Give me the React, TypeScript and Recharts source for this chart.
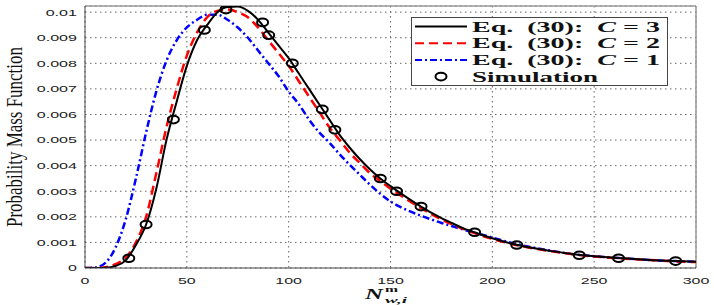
import React from 'react';
import { ComposedChart, Line, Scatter, XAxis, YAxis, CartesianGrid, ReferenceLine } from 'recharts';

const xs = [0, 5, 10, 15, 20, 25, 30, 35, 40, 45, 50, 55, 60, 65, 70, 75, 80, 85, 90, 95, 100, 105, 110, 115, 120, 125, 130, 135, 140, 145, 150, 155, 160, 165, 170, 175, 180, 185, 190, 195, 200, 210, 220, 230, 240, 250, 260, 270, 280, 290, 300];

// Eq. (30), C = 3
const c3 = [0, 0, 0.00001, 0.00008, 0.0003, 0.0009, 0.0017, 0.0031, 0.005, 0.0065, 0.0079, 0.0089, 0.0095, 0.01, 0.0102, 0.01022, 0.01005, 0.0097, 0.0092, 0.0087, 0.0082, 0.0076, 0.007, 0.0064, 0.0058, 0.0052, 0.0047, 0.00425, 0.00385, 0.0035, 0.0032, 0.00292, 0.00265, 0.0024, 0.00216, 0.00195, 0.00176, 0.00158, 0.00143, 0.00129, 0.00116, 0.00094, 0.00078, 0.00065, 0.00054, 0.00046, 0.0004, 0.00035, 0.0003, 0.00027, 0.00024];
// Eq. (30), C = 2
const c2 = [0, 0, 0.00003, 0.00015, 0.0004, 0.001, 0.002, 0.0037, 0.0055, 0.007, 0.0083, 0.0092, 0.0098, 0.01005, 0.0101, 0.01, 0.0098, 0.0094, 0.0089, 0.0084, 0.0079, 0.0073, 0.0067, 0.0061, 0.0055, 0.005, 0.0045, 0.0041, 0.0037, 0.0034, 0.0031, 0.00284, 0.00258, 0.00234, 0.00211, 0.0019, 0.00172, 0.00155, 0.0014, 0.00126, 0.00114, 0.00093, 0.00077, 0.00064, 0.00053, 0.00045, 0.00039, 0.00034, 0.0003, 0.00026, 0.00023];
// Eq. (30), C = 1
const c1 = [0, 0.00002, 0.0002, 0.0008, 0.0019, 0.0035, 0.0053, 0.0069, 0.0081, 0.0089, 0.0094, 0.0097, 0.0099, 0.0099, 0.0097, 0.0094, 0.009, 0.0085, 0.008, 0.0075, 0.0069, 0.0064, 0.0058, 0.0053, 0.0049, 0.00445, 0.00403, 0.00364, 0.00325, 0.0029, 0.0026, 0.00238, 0.0022, 0.00204, 0.0019, 0.00176, 0.00164, 0.00152, 0.00141, 0.0013, 0.00119, 0.00097, 0.0008, 0.00066, 0.00054, 0.00046, 0.0004, 0.00035, 0.0003, 0.00027, 0.00024];

const simX = [21.5, 30, 43.4, 58.6, 69.2, 87.2, 90.2, 101.8, 116.5, 122.7, 145, 153, 165, 191.3, 212, 242.7, 262, 290];
const simY = [0.00038, 0.0017, 0.0058, 0.0093, 0.0101, 0.0096, 0.0091, 0.008, 0.0062, 0.0054, 0.0035, 0.003, 0.0024, 0.0014, 0.0009, 0.0005, 0.00038, 0.00027];

const xTicks = [0, 50, 100, 150, 200, 250, 300];
const yTicks = [0, 0.001, 0.002, 0.003, 0.004, 0.005, 0.006, 0.007, 0.008, 0.009, 0.01];
const Y_MAX = 0.01024;

const curves = xs.map((x, i) => ({ x, c3: c3[i], c2: c2[i], c1: c1[i] }));
const sim = simX.map((x, i) => ({ x, y: simY[i] }));

const tickFont = 'Liberation Sans, Arial, sans-serif';
const serif = 'Liberation Serif, Times New Roman, serif';

const fmtY = (v: number) => (v === 0 ? '0' : String(parseFloat(v.toFixed(3))));
// tick labels in the figure are stretched horizontally
const labelWidth = (s: string) => s.split('').reduce((w, c) => w + (c === '.' ? 4.6 : 8.9), 0);

const YTick = (props: any) => {
  const { x, y, payload } = props;
  const s = fmtY(payload.value);
  const w = labelWidth(s);
  return (
    <text x={x - w} y={y + 3.4} textLength={w} lengthAdjust="spacingAndGlyphs"
      fontSize={9.5} fontFamily={tickFont} fill="#222">{s}</text>
  );
};

const XTick = (props: any) => {
  const { x, y, payload } = props;
  const s = String(payload.value);
  const w = labelWidth(s);
  return (
    <text x={x - w / 2} y={y + 7.5} textLength={w} lengthAdjust="spacingAndGlyphs"
      fontSize={9.5} fontFamily={tickFont} fill="#222">{s}</text>
  );
};

const SimDot = (props: any) => (
  <ellipse cx={props.cx} cy={props.cy} rx={5.5} ry={3.8} fill="none" stroke="#000" strokeWidth={2} />
);

const YTitle = () => (
  <text x={22} y={227} transform="rotate(-90 22 227)" textLength={180}
    lengthAdjust="spacingAndGlyphs" fontSize={23} fontFamily={serif} fill="#111">
    Probability Mass Function
  </text>
);

const XTitle = () => (
  <g fontFamily={serif} fontWeight="bold" fill="#111">
    <text x={365} y={299} textLength={18} lengthAdjust="spacingAndGlyphs" fontSize={15} fontStyle="italic">N</text>
    <text x={385} y={292} textLength={13} lengthAdjust="spacingAndGlyphs" fontSize={9}>m</text>
    <text x={385} y={302.5} textLength={22} lengthAdjust="spacingAndGlyphs" fontSize={9} fontStyle="italic">w,i</text>
  </g>
);

const legendRows = [
  { label: 'C = 3', color: '#000', dash: undefined as string | undefined },
  { label: 'C = 2', color: '#ff0000', dash: '9 5' },
  { label: 'C = 1', color: '#0000ff', dash: '7 3 2 3' },
];

const LegendBox = () => (
  <svg width={258} height={70} style={{ position: 'absolute', left: 411, top: 17 }}>
    <rect x={0.5} y={0.5} width={256} height={68} fill="#fff" stroke="#444" strokeWidth={1} />
    {legendRows.map((r, i) => {
      const cy = 9.5 + i * 16.7;
      return (
        <g key={r.label}>
          <line x1={4} x2={56} y1={cy} y2={cy} stroke={r.color} strokeWidth={2} strokeDasharray={r.dash} />
          <text x={61} y={cy + 5} textLength={188} lengthAdjust="spacingAndGlyphs" fontSize={14}
            fontFamily={serif} fontWeight="bold" fill="#111" style={{ whiteSpace: 'pre' }}>
            {'Eq.  (30):  '}<tspan fontStyle="italic">C</tspan>{r.label.slice(1)}
          </text>
        </g>
      );
    })}
    <ellipse cx={30} cy={59.6} rx={5.5} ry={3.8} fill="none" stroke="#000" strokeWidth={2} />
    <text x={61} y={64.6} textLength={126} lengthAdjust="spacingAndGlyphs" fontSize={14}
      fontFamily={serif} fontWeight="bold" fill="#111">Simulation</text>
  </svg>
);

export default function App() {
  return (
    <div style={{ position: 'absolute', left: 0, top: 0, width: 714, height: 305, background: '#fff' }}>
      <ComposedChart width={714} height={305} data={curves} margin={{ top: 6, right: 18, bottom: 0, left: 0 }}>
        <CartesianGrid stroke="#666" strokeDasharray="1.5 3.5" />
        <XAxis dataKey="x" type="number" domain={[0, 300]} ticks={xTicks} height={37}
          tick={<XTick />} tickLine={false} tickSize={6} tickMargin={2}
          axisLine={{ stroke: '#444' }} label={{ content: () => <XTitle /> }} />
        <YAxis type="number" domain={[0, Y_MAX]} ticks={yTicks} width={85} allowDataOverflow
          tick={<YTick />} tickLine={false} tickSize={6} tickMargin={2}
          axisLine={{ stroke: '#444' }} label={{ content: () => <YTitle /> }} />
        <ReferenceLine y={Y_MAX} stroke="#999" strokeWidth={1.5} />
        <ReferenceLine x={300} stroke="#999" strokeWidth={1.5} />
        <Line type="monotone" dataKey="c1" stroke="#0000ff" strokeWidth={2.5} strokeDasharray="7 3 2 3" dot={false} isAnimationActive={false} />
        <Line type="monotone" dataKey="c2" stroke="#ff0000" strokeWidth={2.5} strokeDasharray="9 5" dot={false} isAnimationActive={false} />
        <Line type="monotone" dataKey="c3" stroke="#000" strokeWidth={2} dot={false} isAnimationActive={false} />
        <Scatter data={sim} dataKey="y" shape={<SimDot />} isAnimationActive={false} />
      </ComposedChart>
      <LegendBox />
    </div>
  );
}
